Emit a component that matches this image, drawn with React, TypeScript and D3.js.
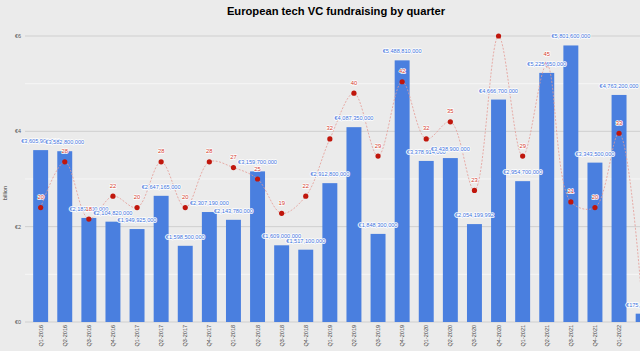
import React from 'react';
import * as d3 from 'd3';

const quarters: string[] = [
  'Q1-2016', 'Q2-2016', 'Q3-2016', 'Q4-2016',
  'Q1-2017', 'Q2-2017', 'Q3-2017', 'Q4-2017',
  'Q1-2018', 'Q2-2018', 'Q3-2018', 'Q4-2018',
  'Q1-2019', 'Q2-2019', 'Q3-2019', 'Q4-2019',
  'Q1-2020', 'Q2-2020', 'Q3-2020', 'Q4-2020',
  'Q1-2021', 'Q2-2021', 'Q3-2021', 'Q4-2021',
  'Q1-2022', 'Q2-2022',
];

// euros raised per quarter
const amounts: number[] = [
  3605900000, 3582800000, 2183100000, 2104820000,
  1949925000, 2647165000, 1598500000, 2307190000,
  2143780000, 3159700000, 1609000000, 1517100000,
  2912800000, 4087350000, 1848300000, 5488810000,
  3378914000, 3438900000, 2054199992, 4666700000,
  2954700000, 5225650000, 5801600000, 3343500000,
  4763200000, 175000000,
];

// number of funds closed per quarter
const fundCounts: number[] = [
  20, 28, 18, 22,
  20, 28, 20, 28,
  27, 25, 19, 22,
  32, 40, 29, 42,
  32, 35, 23, 50,
  29, 45, 21, 20,
  33, 1,
];

const yTicks: number[] = [0, 2, 4, 6];
const gridValues: number[] = [0, 1, 2, 3, 4, 5, 6];

const W = 640;
const H = 351;
const plot = {left: 25, top: 36, bottom: 322};
const font = 'Arial, "Liberation Sans", sans-serif';

const fmt = (v: number) => '€' + d3.format(',')(v);

const App = () => {
  const x = d3.scaleBand<string>()
    .domain(quarters)
    .range([28.6, 28.6 + 26 * 24.1])
    .paddingInner(0.38)
    .paddingOuter(0.19);

  const y = d3.scaleLinear().domain([0, 6]).range([plot.bottom, plot.top]);
  const yCount = d3.scaleLinear().domain([0, 50]).range([plot.bottom, plot.top]);

  const cx = (q: string) => (x(q) as number) + x.bandwidth() / 2;

  const line = d3.line<number>()
    .x((_, i) => cx(quarters[i]))
    .y(d => yCount(d))
    .curve(d3.curveCatmullRom.alpha(0.5));

  return (
    <svg width={W} height={H} style={{position: 'absolute', left: 0, top: 0, display: 'block'}}
         fontFamily={font}>
      <defs>
        <clipPath id="plotClip">
          <rect x={plot.left} y={plot.top} width={W - plot.left} height={plot.bottom - plot.top}/>
        </clipPath>
      </defs>
      <rect width={W} height={H} fill="#ebebeb"/>

      <text x={336} y={15} textAnchor="middle" fontSize={11.2} fontWeight="bold" fill="#000">
        European tech VC fundraising by quarter
      </text>

      {gridValues.map(v => (
        <line key={v} x1={plot.left} x2={W} y1={y(v)} y2={y(v)}
              stroke={v % 2 === 0 ? '#cfcfcf' : '#f6f6f6'} strokeWidth={1}/>
      ))}

      {yTicks.map(v => (
        <text key={v} x={21} y={y(v)} dy="0.35em" textAnchor="end" fontSize={5.5} fill="#555">
          €{v}
        </text>
      ))}

      <text transform={`translate(7,${(plot.top + plot.bottom) / 2 + 14}) rotate(-90)`}
            textAnchor="middle" fontSize={5.5} fill="#333">billion</text>

      {amounts.map((v, i) => (
        <rect key={quarters[i]} x={x(quarters[i])} y={y(v / 1e9)}
              width={x.bandwidth()} height={y(0) - y(v / 1e9)} fill="#4a7fdf"/>
      ))}

      {quarters.map(q => (
        <text key={q} transform={`translate(${cx(q) + 2},${plot.bottom + 3}) rotate(-90)`}
              textAnchor="end" fontSize={5.5} fill="#444">{q}</text>
      ))}

      <path d={line(fundCounts) || ''} fill="none" stroke="#e49a94" strokeWidth={0.8}
            strokeDasharray="2,1.5" clipPath="url(#plotClip)"/>

      {fundCounts.map((c, i) => (
        <circle key={quarters[i]} cx={cx(quarters[i])} cy={yCount(c)} r={2.6} fill="#c0160c"/>
      ))}

      {amounts.map((v, i) => (
        <text key={quarters[i]} x={cx(quarters[i])} y={y(v / 1e9) - 7} textAnchor="middle"
              fontSize={5.6} fill="#3c72dc" stroke="#fff" strokeWidth={1.6}
              paintOrder="stroke" strokeLinejoin="round">{fmt(v)}</text>
      ))}

      {fundCounts.map((c, i) => yCount(c) - 12 < plot.top ? null : (
        <text key={quarters[i]} x={cx(quarters[i])} y={yCount(c) - 8.5} textAnchor="middle"
              fontSize={5.8} fill="#d33a2c" stroke="#fff" strokeWidth={1.4}
              paintOrder="stroke" strokeLinejoin="round">{c}</text>
      ))}
    </svg>
  );
};

export default App;
